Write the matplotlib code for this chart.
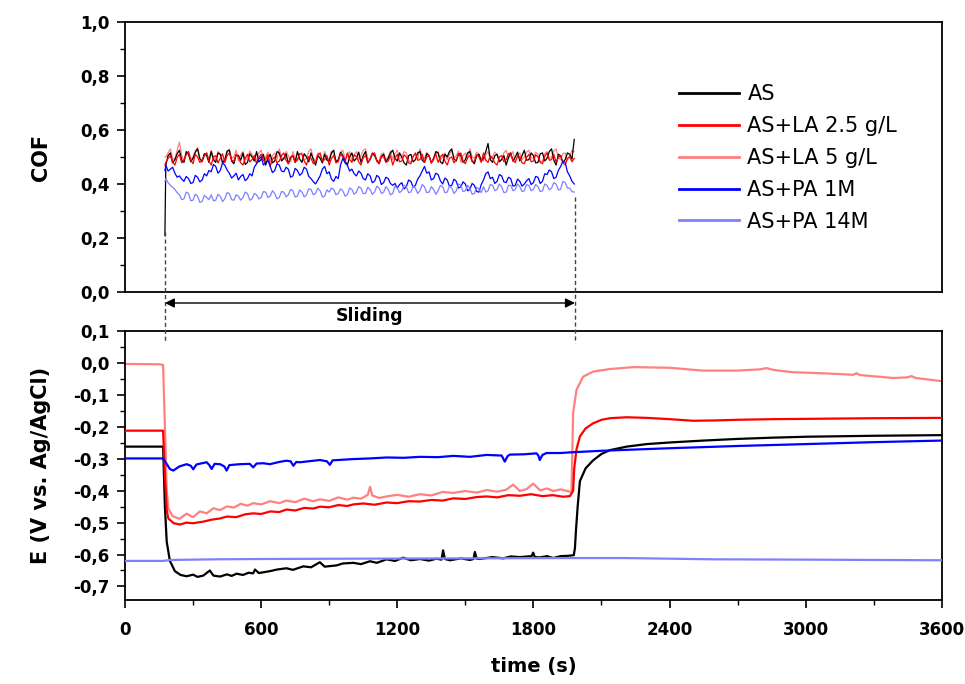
import numpy as np
import matplotlib
matplotlib.use("Agg")
import matplotlib.pyplot as plt
from matplotlib.ticker import FuncFormatter, MultipleLocator
from matplotlib.transforms import blended_transform_factory
from matplotlib.lines import Line2D

plt.rcParams.update({
    "font.family": ["DejaVu Sans"],
    "font.size": 12,
    "axes.linewidth": 1.3,
    "xtick.direction": "out",
    "ytick.direction": "out",
    "xtick.major.width": 1.2,
    "ytick.major.width": 1.2,
    "xtick.minor.width": 1.0,
    "ytick.minor.width": 1.0,
    "xtick.major.size": 6,
    "ytick.major.size": 6,
    "xtick.minor.size": 3.5,
    "ytick.minor.size": 3.5,
})

labels = ["AS", "AS+LA 2.5 g/L", "AS+LA 5 g/L", "AS+PA 1M", "AS+PA 14M"]
colors = ["#000000", "#ff0000", "#ff8080", "#0000ff", "#8080ff"]
zorders = [3, 4, 2, 5, 6]

SLIDE_START = 176
SLIDE_END = 1983

# ---- COF during sliding, sampled every 10 s from 180 s (values in 1/1000) ----
t_cof = np.arange(180, 1981, 10)

cof_as = [470, 505, 515, 478, 490, 512, 525, 488, 480, 520, 510, 482, 495, 518, 530, 492, 485, 512, 505, 480,
          520, 490, 480, 515, 510, 478, 490, 522, 525, 485, 475, 508, 505, 488, 515, 472, 480, 512, 500, 485,
          520, 482, 490, 510, 470, 495, 510, 478, 485, 520, 515, 485, 495, 512, 475, 498, 505, 480, 520, 492,
          480, 512, 500, 482, 515, 490, 470, 505, 495, 478, 510, 488, 485, 515, 525, 482, 490, 518, 505, 485,
          470, 500, 515, 485, 495, 518, 480, 505, 520, 478, 490, 512, 505, 488, 475, 502, 510, 482, 495, 515,
          525, 495, 485, 515, 500, 478, 470, 505, 510, 482, 490, 515, 520, 488, 480, 512, 505, 478, 495, 520,
          515, 482, 475, 510, 500, 520, 530, 492, 485, 512, 505, 480, 490, 515, 520, 485, 475, 505, 510, 485,
          495, 520, 550, 490, 480, 505, 510, 482, 490, 505, 470, 498, 515, 485, 500, 518, 485, 505, 525, 488,
          490, 515, 505, 478, 480, 512, 515, 485, 495, 520, 530, 488, 470, 510, 505, 480, 490, 515, 510, 492,
          565]
cof_la25 = [480, 495, 505, 482, 470, 498, 510, 478, 490, 508, 520, 488, 475, 510, 500, 480, 485, 505, 515, 485,
            470, 500, 505, 478, 495, 512, 480, 505, 515, 488, 485, 510, 500, 478, 470, 495, 510, 482, 490, 505,
            475, 498, 510, 485, 490, 508, 465, 492, 500, 478, 485, 505, 515, 488, 475, 500, 505, 480, 490, 512,
            510, 485, 470, 502, 495, 475, 480, 508, 515, 485, 490, 505, 470, 495, 505, 478, 485, 512, 500, 482,
            515, 490, 480, 508, 500, 482, 470, 498, 505, 480, 490, 510, 515, 485, 475, 502, 500, 480, 485, 505,
            470, 495, 510, 482, 485, 508, 500, 478, 475, 502, 515, 488, 490, 510, 480, 500, 505, 478, 495, 510,
            480, 500, 510, 485, 470, 495, 500, 478, 490, 510, 515, 485, 475, 498, 505, 482, 485, 508, 500, 480,
            515, 488, 480, 505, 495, 478, 470, 500, 505, 482, 490, 512, 515, 485, 480, 505, 500, 478, 475, 498,
            510, 482, 485, 508, 500, 480, 475, 502, 515, 488, 490, 510, 480, 498, 505, 478, 470, 495, 500, 482,
            495]
cof_la5 = [500, 515, 530, 495, 490, 525, 555, 505, 485, 512, 520, 490, 500, 522, 535, 498, 480, 510, 515, 492,
           525, 498, 490, 520, 510, 485, 480, 515, 530, 495, 500, 525, 485, 508, 520, 490, 495, 522, 510, 488,
           490, 515, 525, 492, 500, 518, 480, 505, 515, 492, 530, 500, 490, 520, 505, 482, 520, 495, 485, 512,
           515, 488, 495, 520, 530, 495, 485, 515, 505, 482, 520, 498, 490, 522, 510, 485, 480, 515, 525, 492,
           500, 520, 485, 508, 520, 490, 505, 525, 530, 495, 490, 518, 510, 482, 485, 512, 515, 490, 500, 522,
           490, 512, 525, 495, 500, 520, 515, 488, 480, 505, 510, 492, 530, 500, 495, 518, 505, 480, 485, 510,
           520, 490, 500, 515, 490, 508, 525, 495, 505, 522, 480, 505, 515, 492, 530, 500, 495, 518, 510, 492,
           485, 508, 520, 492, 500, 518, 510, 488, 490, 515, 525, 495, 505, 520, 480, 502, 515, 490, 500, 518,
           525, 498, 495, 518, 510, 482, 485, 512, 520, 495, 500, 522, 530, 498, 490, 512, 515, 488, 505, 525,
           520]
cof_pa1 = [470, 448, 455, 462, 440, 425, 430, 418, 410, 428, 420, 402, 405, 432, 425, 408, 415, 438, 430, 450,
           445, 472, 465, 440, 450, 478, 470, 452, 440, 422, 430, 440, 415, 428, 435, 412, 420, 438, 430, 462,
           475, 492, 500, 470, 480, 488, 465, 442, 450, 475, 470, 448, 445, 462, 455, 425, 430, 458, 450, 432,
           440, 462, 455, 428, 420, 408, 400, 415, 430, 455, 465, 438, 445, 418, 410, 428, 420, 470, 495, 478,
           470, 448, 455, 438, 430, 448, 440, 420, 415, 438, 430, 405, 410, 432, 425, 398, 405, 425, 420, 402,
           395, 402, 385, 398, 405, 382, 390, 415, 410, 388, 395, 418, 430, 448, 465, 440, 445, 415, 420, 440,
           435, 412, 400, 422, 415, 392, 395, 418, 410, 385, 390, 408, 400, 375, 380, 402, 395, 372, 370, 398,
           415, 438, 445, 420, 425, 402, 410, 435, 430, 408, 405, 425, 420, 392, 395, 418, 410, 392, 400, 412,
           420, 398, 405, 428, 425, 402, 410, 438, 435, 452, 445, 420, 425, 450, 465, 485, 480, 445, 430, 410,
           400]
cof_pa14 = [420, 405, 395, 388, 380, 368, 360, 342, 345, 370, 365, 338, 340, 362, 355, 332, 335, 358, 350, 342,
            360, 338, 340, 362, 355, 335, 345, 368, 365, 342, 340, 360, 355, 340, 350, 370, 365, 340, 345, 365,
            360, 345, 350, 372, 370, 350, 355, 375, 365, 345, 350, 372, 370, 352, 360, 380, 375, 352, 355, 378,
            370, 352, 360, 382, 380, 360, 365, 385, 375, 352, 355, 378, 370, 385, 380, 360, 365, 382, 375, 355,
            360, 385, 380, 362, 370, 390, 385, 365, 365, 388, 380, 362, 370, 392, 385, 365, 370, 390, 380, 360,
            365, 392, 385, 368, 375, 395, 390, 368, 370, 392, 385, 365, 375, 398, 390, 368, 370, 390, 380, 362,
            375, 395, 390, 368, 370, 392, 385, 365, 375, 400, 395, 372, 375, 395, 385, 362, 365, 388, 380, 368,
            390, 370, 375, 398, 395, 375, 380, 400, 390, 368, 370, 395, 395, 375, 380, 400, 390, 372, 375, 398,
            395, 375, 380, 398, 390, 372, 375, 400, 395, 378, 385, 405, 400, 378, 380, 410, 405, 385, 385, 372,
            370]
cof_series = [cof_as, cof_la25, cof_la5, cof_pa1, cof_pa14]
cof_first = [210, 470, 500, 450, 410]   # value at sliding start (t = 176 s)

# ---- Open circuit potential, V vs. Ag/AgCl ----
t_e_as = [0, 168, 176, 184, 198, 220, 245, 272, 300, 320, 345, 374, 390, 419, 450,
          470, 492, 520, 545, 565, 573, 590, 639, 670, 712, 740, 786, 820, 859, 880,
          933, 960, 1006, 1040, 1080, 1110, 1153, 1190, 1226, 1260, 1300, 1340, 1373,
          1395, 1402, 1410, 1432, 1480, 1520, 1536, 1542, 1550, 1564, 1620, 1667, 1700,
          1740, 1792, 1799, 1806, 1828, 1860, 1887, 1920, 1953, 1978, 1983, 1988, 1995,
          2005, 2030, 2063, 2100, 2137, 2211, 2300, 2401, 2550, 2695, 2850, 3004, 3300, 3600]
e_as = [-0.262, -0.262, -0.45, -0.56, -0.62, -0.652, -0.664, -0.668, -0.663, -0.670,
        -0.666, -0.650, -0.666, -0.669, -0.662, -0.667, -0.660, -0.664, -0.657, -0.659,
        -0.647, -0.658, -0.652, -0.647, -0.643, -0.648, -0.637, -0.640, -0.624, -0.638,
        -0.634, -0.628, -0.626, -0.630, -0.621, -0.626, -0.615, -0.620, -0.610, -0.618,
        -0.614, -0.619, -0.613, -0.616, -0.587, -0.614, -0.618, -0.612, -0.617, -0.614,
        -0.592, -0.613, -0.614, -0.608, -0.612, -0.606, -0.608, -0.605, -0.594, -0.608,
        -0.609, -0.605, -0.611, -0.605, -0.604, -0.602, -0.58, -0.52, -0.45, -0.37,
        -0.33, -0.305, -0.285, -0.273, -0.262, -0.254, -0.249, -0.243, -0.238, -0.234,
        -0.231, -0.228, -0.226]

t_e_la25 = [0, 168, 176, 184, 191, 215, 243, 270, 300, 345, 380, 419, 450, 490, 530,
            565, 600, 640, 680, 712, 750, 790, 830, 859, 900, 940, 980, 1006, 1050, 1100,
            1153, 1200, 1250, 1300, 1350, 1400, 1447, 1500, 1550, 1594, 1640, 1690, 1740,
            1790, 1840, 1887, 1930, 1961, 1975, 1980, 1990, 2005, 2030, 2063, 2100, 2137,
            2211, 2300, 2401, 2504, 2600, 2695, 2850, 3004, 3300, 3600]
e_la25 = [-0.212, -0.212, -0.35, -0.46, -0.487, -0.502, -0.506, -0.500, -0.502, -0.497,
          -0.491, -0.487, -0.481, -0.483, -0.474, -0.471, -0.473, -0.465, -0.467, -0.459,
          -0.462, -0.454, -0.456, -0.450, -0.452, -0.445, -0.448, -0.443, -0.440, -0.444,
          -0.437, -0.439, -0.433, -0.434, -0.429, -0.431, -0.424, -0.426, -0.420, -0.418,
          -0.421, -0.414, -0.416, -0.411, -0.417, -0.414, -0.419, -0.417, -0.40, -0.33,
          -0.27, -0.23, -0.205, -0.189, -0.178, -0.173, -0.170, -0.172, -0.176, -0.181,
          -0.180, -0.178, -0.176, -0.175, -0.173, -0.172]

t_e_la5 = [0, 150, 168, 176, 184, 191, 210, 240, 272, 300, 330, 360, 390, 419, 450,
           480, 510, 540, 565, 600, 640, 680, 712, 750, 790, 830, 859, 900, 940, 980,
           1006, 1040, 1070, 1080, 1090, 1120, 1153, 1200, 1250, 1300, 1350, 1400, 1447,
           1500, 1550, 1594, 1640, 1680, 1711, 1740, 1770, 1799, 1830, 1860, 1887, 1920,
           1961, 1968, 1975, 1990, 2019, 2063, 2137, 2240, 2401, 2548, 2695, 2798, 2827,
           2860, 2945, 3100, 3210, 3224, 3240, 3386, 3450, 3466, 3485, 3600]
e_la5 = [-0.003, -0.004, -0.006, -0.20, -0.40, -0.455, -0.480, -0.488, -0.472, -0.483,
         -0.465, -0.471, -0.455, -0.461, -0.449, -0.453, -0.441, -0.447, -0.439, -0.443,
         -0.433, -0.439, -0.431, -0.436, -0.425, -0.433, -0.427, -0.432, -0.421, -0.428,
         -0.422, -0.425, -0.413, -0.388, -0.415, -0.423, -0.418, -0.413, -0.419, -0.411,
         -0.415, -0.404, -0.407, -0.401, -0.406, -0.398, -0.403, -0.397, -0.381, -0.401,
         -0.395, -0.378, -0.399, -0.393, -0.401, -0.396, -0.403, -0.403, -0.157, -0.084,
         -0.043, -0.027, -0.019, -0.013, -0.015, -0.024, -0.024, -0.020, -0.016, -0.022,
         -0.029, -0.033, -0.037, -0.032, -0.038, -0.047, -0.045, -0.041, -0.047, -0.057]

t_e_pa1 = [0, 168, 180, 198, 213, 240, 272, 290, 301, 315, 340, 360, 372, 382, 395,
           419, 438, 448, 460, 490, 507, 550, 565, 580, 610, 639, 680, 712, 730, 742,
           755, 771, 820, 859, 890, 903, 915, 960, 1006, 1080, 1153, 1230, 1300, 1380,
           1447, 1520, 1594, 1660, 1674, 1686, 1696, 1760, 1814, 1822, 1828, 1840, 1858,
           1920, 1961, 1990, 2100, 2401, 2700, 3004, 3300, 3600]
e_pa1 = [-0.299, -0.299, -0.312, -0.332, -0.337, -0.324, -0.317, -0.322, -0.333, -0.318,
         -0.314, -0.311, -0.320, -0.332, -0.316, -0.317, -0.324, -0.337, -0.320, -0.318,
         -0.317, -0.316, -0.327, -0.315, -0.314, -0.317, -0.310, -0.306, -0.308, -0.322,
         -0.310, -0.311, -0.307, -0.304, -0.308, -0.319, -0.305, -0.303, -0.301, -0.299,
         -0.296, -0.297, -0.294, -0.295, -0.291, -0.294, -0.288, -0.290, -0.309, -0.292,
         -0.287, -0.286, -0.283, -0.290, -0.304, -0.288, -0.282, -0.282, -0.280, -0.279,
         -0.275, -0.267, -0.260, -0.254, -0.248, -0.243]

t_e_pa14 = [0, 168, 200, 400, 600, 1000, 1500, 1960, 2200, 2400, 2600, 3000, 3600]
e_pa14 = [-0.620, -0.620, -0.617, -0.615, -0.614, -0.613, -0.612, -0.611, -0.611,
          -0.613, -0.615, -0.616, -0.618]

t_e = [t_e_as, t_e_la25, t_e_la5, t_e_pa1, t_e_pa14]
e_series = [e_as, e_la25, e_la5, e_pa1, e_pa14]

comma = FuncFormatter(lambda v, _: f"{v:.1f}".replace(".", ",").replace("-0,0", "0,0"))

fig = plt.figure(figsize=(9.65, 6.84), dpi=100)
ax1 = fig.add_axes([0.1295, 0.573, 0.8465, 0.395])
ax2 = fig.add_axes([0.1295, 0.123, 0.8465, 0.393])

for i in range(5):
    vals = np.array(cof_series[i]) / 1000
    tt = np.concatenate([[SLIDE_START], t_cof[:len(vals)]])
    yy = np.concatenate([[cof_first[i] / 1000], vals])
    ax1.plot(tt, yy, color=colors[i], lw=0.9, zorder=zorders[i], label=labels[i])
    ax2.plot(t_e[i], e_series[i], color=colors[i], lw=1.6, zorder=zorders[i])

for ax in (ax1, ax2):
    ax.set_xlim(0, 3600)
    ax.tick_params(which="both", top=False, right=False)
    ax.yaxis.set_major_formatter(comma)
    ax.tick_params(axis="y", labelsize=12, pad=5)

ax1.set_ylim(0, 1.0)
ax1.yaxis.set_major_locator(MultipleLocator(0.2))
ax1.yaxis.set_minor_locator(MultipleLocator(0.1))
ax1.set_xticks([])

ax2.set_ylim(-0.742, 0.1)
ax2.yaxis.set_major_locator(MultipleLocator(0.1))
ax2.yaxis.set_minor_locator(MultipleLocator(0.05))
ax2.xaxis.set_major_locator(MultipleLocator(600))
ax2.xaxis.set_minor_locator(MultipleLocator(300))
ax2.tick_params(axis="x", labelsize=12, pad=9)

for ax in (ax1, ax2):
    for lab in ax.get_yticklabels() + ax.get_xticklabels():
        lab.set_fontweight("bold")

ax2.set_xlabel("time (s)", fontsize=14, fontweight="bold", labelpad=13)
fig.text(0.042, 0.77, "COF", rotation=90, ha="center", va="center",
         fontsize=15, fontweight="bold")
fig.text(0.042, 0.32, "E (V vs. Ag/AgCl)", rotation=90, ha="center", va="center",
         fontsize=15, fontweight="bold")

leg = ax1.legend(loc="upper left", bbox_to_anchor=(0.695, 0.889),
                 bbox_transform=fig.transFigure, frameon=False,
                 fontsize=15, handlelength=2.9, handletextpad=0.38, labelspacing=0.57,
                 borderaxespad=0)
for h in leg.get_lines():
    h.set_linewidth(2.0)

# Sliding period markers
trans = blended_transform_factory(ax1.transData, fig.transFigure)
for t0, ytop in ((SLIDE_START, 1 - 232 / 684), (SLIDE_END, 1 - 197 / 684)):
    fig.add_artist(Line2D([t0, t0], [ytop, 1 - 343 / 684], transform=trans,
                          color="#444444", lw=1.0, ls=(0, (3, 2)), zorder=10))
ax1.annotate("", xy=(SLIDE_END, 1 - 303 / 684), xytext=(SLIDE_START, 1 - 303 / 684),
             xycoords=trans, textcoords=trans, annotation_clip=False,
             arrowprops=dict(arrowstyle="<|-|>", color="black", lw=1.0,
                             mutation_scale=14, shrinkA=0, shrinkB=0))
fig.text((SLIDE_START + SLIDE_END) / 2, 1 - 316 / 684, "Sliding", transform=trans,
         ha="center", va="center", fontsize=12.5, fontweight="bold")

fig.savefig("out.png", dpi=100, facecolor="white")
